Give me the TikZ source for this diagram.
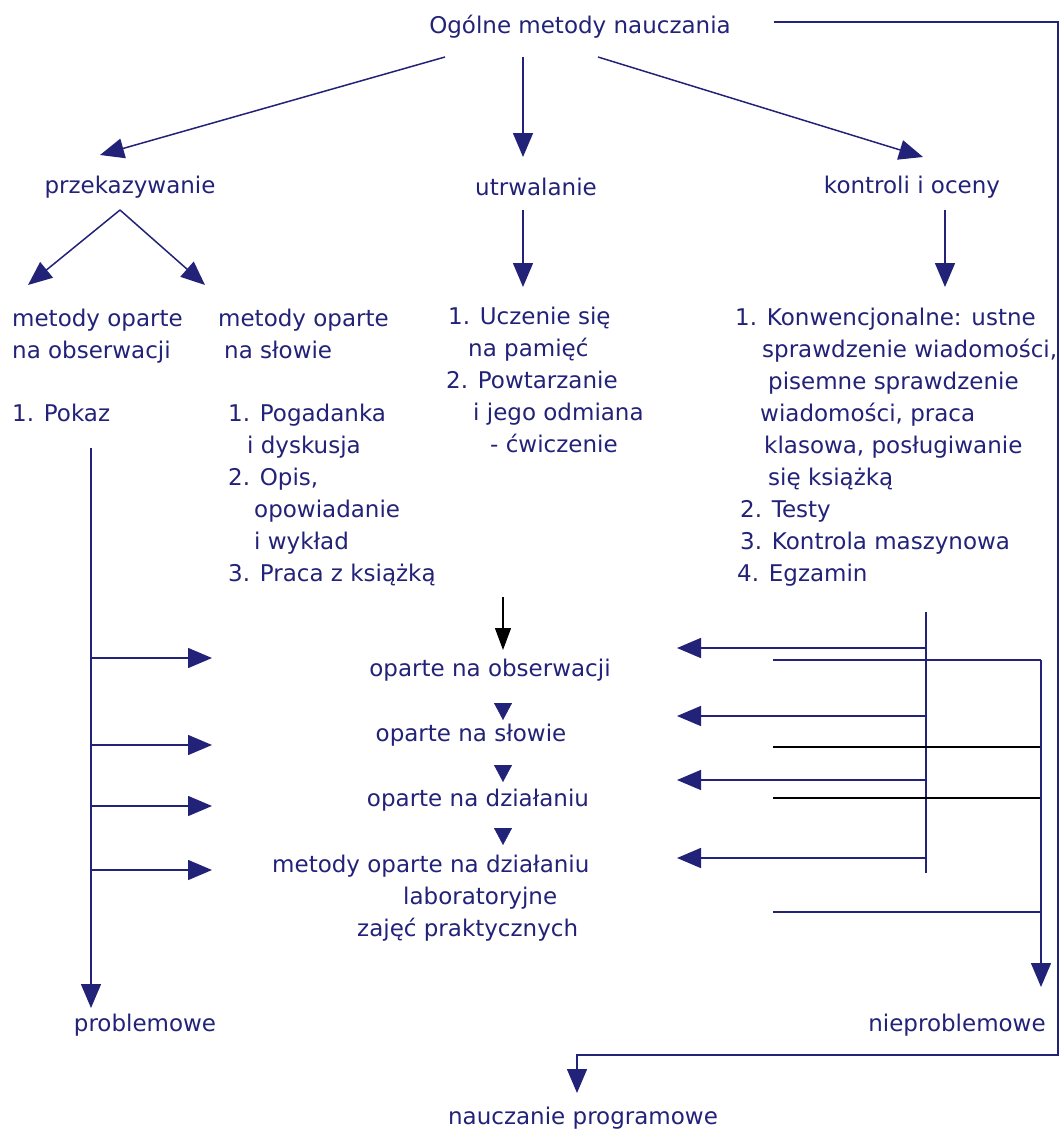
\documentclass[tikz,border=0pt]{standalone}
\usepackage{fontspec}
\setmainfont{DejaVu Sans}
\usetikzlibrary{arrows.meta}
\definecolor{granat}{RGB}{34,34,120}
\tikzset{
  lbl/.style={text=granat, inner sep=0pt, font=\fontsize{23}{32}\selectfont},
  blok/.style={lbl, align=left, anchor=base west},
  lin/.style={draw=granat, line width=1.5pt},
  arr/.style={lin, -{Triangle[length=24pt,width=20pt]}},
  czarna/.style={draw=black, line width=1.3pt},
  grot/.style={draw=granat, -{Triangle[length=17pt,width=18pt]}},
}

\begin{document}
\begin{tikzpicture}[x=1pt,y=-1pt]
	\useasboundingbox (0,0) rectangle (1063,1133);
	% poziom 1 i 2
	\node[lbl] (ogolne) at (580,27) {Ogólne metody nauczania};
	\node[lbl] (przek) at (130,187) {przekazywanie};
	\node[lbl] (utrw) at (536,187) {utrwalanie};
	\node[lbl] (kontr) at (912,187) {kontroli i oceny};
	
	% listy metod (kotwica = linia bazowa ostatniego wiersza)
	\node[blok] (obsw) at (12,358) {metody oparte\\na obserwacji};
	\node[blok] (pokaz) at (12,421) {1. Pokaz};
	\node[blok] (slow) at (218,358) {metody oparte\\\hspace*{6pt}na słowie};
	\node[blok] (slowlista) at (228,581) {1. Pogadanka\\\hspace*{19pt}i dyskusja\\2. Opis,\\\hspace*{26pt}opowiadanie\\\hspace*{26pt}i wykład\\3. Praca z książką};
	\node[blok] (utrwlista) at (446,452) {\hspace*{2pt}1. Uczenie się\\\hspace*{22pt}na pamięć\\2. Powtarzanie\\\hspace*{27pt}i jego odmiana\\\hspace*{44pt}- ćwiczenie};
	\node[blok] (kontrlista) at (735,581) {1. Konwencjonalne: ustne\\\hspace*{27pt}sprawdzenie wiadomości,\\\hspace*{33pt}pisemne sprawdzenie\\\hspace*{25pt}wiadomości, praca\\\hspace*{29pt}klasowa, posługiwanie\\\hspace*{33pt}się książką\\\hspace*{5pt}2. Testy\\\hspace*{5pt}3. Kontrola maszynowa\\\hspace*{2pt}4. Egzamin};
	
	% srodek
	\node[lbl] (obs) at (490,670) {oparte na obserwacji};
	\node[lbl] (slowo) at (471,735) {oparte na słowie};
	\node[lbl] (dzial) at (478,800) {oparte na działaniu};
	\node[blok] (metdz) at (272,936) {metody oparte na działaniu\\\hspace*{131pt}laboratoryjne\\\hspace*{85pt}zajęć praktycznych};
	
	% dol
	\node[lbl] (prob) at (145,1025) {problemowe};
	\node[lbl] (nieprob) at (957,1025) {nieproblemowe};
	\node[lbl] (progr) at (583,1118) {nauczanie programowe};
	
	% strzalki od tytulu
	\draw[arr] ([shift={(-135,30)}]ogolne.center) -- ([shift={(-30,-32)}]przek.center);
	\draw[arr] ([shift={(-57,30)}]ogolne.center) -- ([shift={(-13,-30)}]utrw.center);
	\draw[arr] ([shift={(18,30)}]ogolne.center) -- ([shift={(11,-30)}]kontr.center);
	\draw[arr] ([shift={(43,-5)}]ogolne.east) -| (1058,1055) -| ([shift={(-6,-25)}]progr.center);
	
	\draw[arr] ([shift={(-10,23)}]przek.center) -- ([shift={(16,-73)}]obsw.base west);
	\draw[arr] ([shift={(-10,23)}]przek.center) -- ([shift={(-13,-73)}]slow.base west);
	\draw[arr] ([shift={(-13,23)}]utrw.center) -- ([shift={(77,-165)}]utrwlista.base west);
	\draw[arr] ([shift={(33,23)}]kontr.center) -- ([shift={(210,-294)}]kontrlista.base west);
	
	% lewa strona
	\draw[arr] ([shift={(79,27)}]pokaz.base west) -- ([shift={(-54,-17)}]prob.center);
	\foreach \y in {658,745,806,870}
		\draw[arr] (91,\y) -- (212,\y);
	
	% prawa strona
	\draw[lin] (926,612) -- (926,873);
	\foreach \y in {648,716,780,858}
		\draw[arr] (926,\y) -- (677,\y);
	\draw[lin] (773,660) -- (1041,660);
	\draw[czarna] (773,747) -- (1041,747);
	\draw[czarna] (773,798) -- (1041,798);
	\draw[lin] (773,912) -- (1041,912);
	\draw[arr] (1041,660) -- ([shift={(84,-38)}]nieprob.center);
	
	% kolejnosc w srodku
	\draw[black, line width=1.3pt, -{Triangle[length=22pt,width=16pt]}] (503,597) -- ([shift={(13,-20)}]obs.center);
	\draw[grot] ([shift={(13,33)}]obs.center) -- ++(0,17);
	\draw[grot] ([shift={(32,30)}]slowo.center) -- ++(0,17);
	\draw[grot] ([shift={(25,28)}]dzial.center) -- ++(0,17);
\end{tikzpicture}
\end{document}
